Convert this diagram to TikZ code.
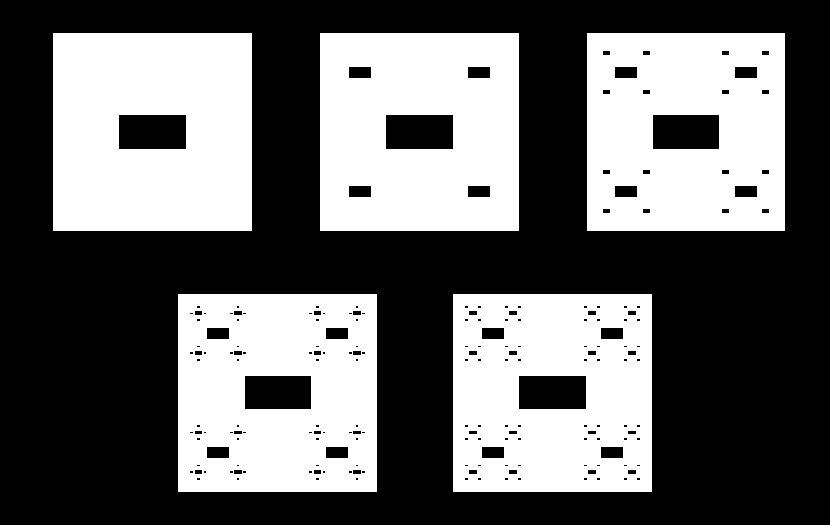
\documentclass[tikz,border=0pt]{standalone}
\tikzset{
  bgfill/.style={fill=black},
  sqfill/.style={fill=white},
  holefill/.style={fill=black}
}
% hole centred at (#1,#2), width #3, height #4
\newcommand\fhole[4]{\fill[holefill] ({(#1)-(#3)/2},{(#2)-(#4)/2}) rectangle ({(#1)+(#3)/2},{(#2)+(#4)/2});}
\newcommand\diaglist{-6.62/-6.62,6.62/-6.62,-6.62/6.62,6.62/6.62}
\newcommand\crosslist{-6.62/0,6.62/0,0/-6.62,0/6.62}
% #1 cx, #2 cy, #3 level, #4 list of level-4 offsets
\newcommand\fsquare[4]{%
  \fill[sqfill] ({#1-99.25},{#2-99.25}) rectangle ({#1+99.25},{#2+99.25});
  \fhole{#1}{#2}{66.17}{33.08}
  \ifnum#3>1
    \foreach \a in {-1,1}{\foreach \b in {-1,1}{
      \fhole{#1+(\a)*59.55}{#2+(\b)*59.55}{22.06}{11.03}
      \ifnum#3>2
        \foreach \c in {-1,1}{\foreach \d in {-1,1}{
          \fhole{#1+(\a)*59.55+(\c)*19.85}{#2+(\b)*59.55+(\d)*19.85}{7.5}{3.9}
          \ifnum#3>3
            \foreach \p/\q in #4{
              \fhole{#1+(\a)*59.55+(\c)*19.85+(\p)}{#2+(\b)*59.55+(\d)*19.85+(\q)}{2.7}{1.8}
            }
          \fi
        }}
      \fi
    }}
  \fi
}
\begin{document}
\begin{tikzpicture}[x=1pt,y=-1pt]
\useasboundingbox (0,0) rectangle (830,525);
\fill[bgfill] (0,0) rectangle (830,525);
\fsquare{152.5}{132}{1}{\diaglist}
\fsquare{419.5}{132}{2}{\diaglist}
\fsquare{686}{132}{3}{\diaglist}
\fsquare{277.7}{392.8}{4}{\crosslist}
\fsquare{552.5}{392.8}{4}{\diaglist}
\end{tikzpicture}
\end{document}
